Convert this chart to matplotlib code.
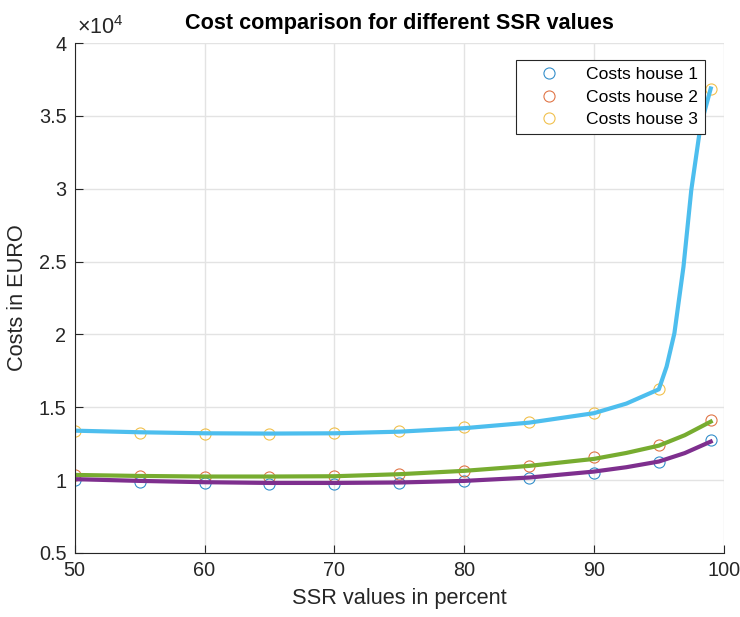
import numpy as np
import matplotlib
matplotlib.use('Agg')
import matplotlib.pyplot as plt
from matplotlib.ticker import FuncFormatter

plt.rcParams.update({'font.family': 'Liberation Sans', 'mathtext.fontset': 'custom',
                     'mathtext.rm': 'Liberation Sans', 'mathtext.it': 'Liberation Sans'})

# SSR sample points and total costs (EUR)
ssr = [50, 55, 60, 65, 70, 75, 80, 85, 90, 95, 99]
cost_h1 = [10000, 9870, 9780, 9710, 9710, 9780, 9900, 10150, 10510, 11220, 12750]
cost_h2 = [10370, 10260, 10240, 10240, 10280, 10420, 10650, 10970, 11570, 12390, 14130]
cost_h3 = [13370, 13230, 13170, 13140, 13250, 13370, 13620, 13970, 14630, 16230, 36820]

# fitted cost curves
fit_x = [50, 55, 60, 65, 70, 75, 80, 85, 90, 92.5, 95, 97, 99]
fit_h1 = [10060, 9940, 9850, 9800, 9800, 9830, 9940, 10170, 10580, 10880, 11270, 11850, 12640]
fit_h2 = [10350, 10280, 10240, 10240, 10260, 10400, 10630, 10970, 11450, 11860, 12360, 13080, 14010]
fit3_x = [50, 55, 60, 65, 70, 75, 80, 85, 90, 92.5, 95, 95.6, 96.2, 96.9, 97.5, 98.2, 99]
fit_h3 = [13390, 13280, 13210, 13190, 13210, 13320, 13560, 13940, 14590, 15250, 16230,
          17790, 20080, 24650, 29910, 34250, 36890]

fig = plt.figure(figsize=(7.4, 6.17), dpi=100)
ax = fig.add_axes([0.101, 0.104, 0.877, 0.826])

mk = dict(ls='none', marker='o', ms=8, mfc='none', mew=0.8, alpha=0.8)
ax.plot(ssr, cost_h1, color='#0072BD', label='Costs house 1', **mk)
ax.plot(ssr, cost_h2, color='#D95319', label='Costs house 2', **mk)
ax.plot(ssr, cost_h3, color='#EDB120', label='Costs house 3', **mk)
ax.plot(fit3_x, fit_h3, color='#4DBEEE', lw=3)
ax.plot(fit_x, fit_h2, color='#77AC30', lw=3)
ax.plot(fit_x, fit_h1, color='#7E2F8E', lw=3)

ax.set_xlim(50, 100)
ax.set_ylim(5000, 40000)
ax.set_xticks(range(50, 101, 10))
ax.set_yticks(range(5000, 40001, 5000))
ax.yaxis.set_major_formatter(FuncFormatter(lambda v, p: f'{v/1e4:g}'))
ax.grid(True, color='#e3e3e3', lw=1)
ax.set_axisbelow(True)
for s in ('top', 'right'):
    ax.spines[s].set_visible(False)
for s in ('left', 'bottom'):
    ax.spines[s].set_color('#262626')
ax.tick_params(direction='in', length=6, colors='#262626', labelsize=14.3, pad=6)

ax.set_xlabel('SSR values in percent', fontsize=15.7, color='#262626', labelpad=6)
ax.set_ylabel('Costs in EURO', fontsize=15.7, color='#262626', labelpad=8)
ax.set_title('Cost comparison for different SSR values', fontsize=15.6,
             fontweight='bold', pad=10)
ax.text(0.003, 1.008, r'$\times10^{4}$', transform=ax.transAxes, fontsize=15.5,
        color='#262626', ha='left', va='bottom')

leg = ax.legend(loc='upper right', bbox_to_anchor=(0.9707, 0.9667), borderaxespad=0,
                fontsize=12.6, fancybox=False, framealpha=1, edgecolor='#262626',
                labelspacing=0.4, handlelength=3.0, handletextpad=0.6, borderpad=0.4)
leg.get_frame().set_linewidth(0.8)

fig.savefig('out.png', dpi=100)
